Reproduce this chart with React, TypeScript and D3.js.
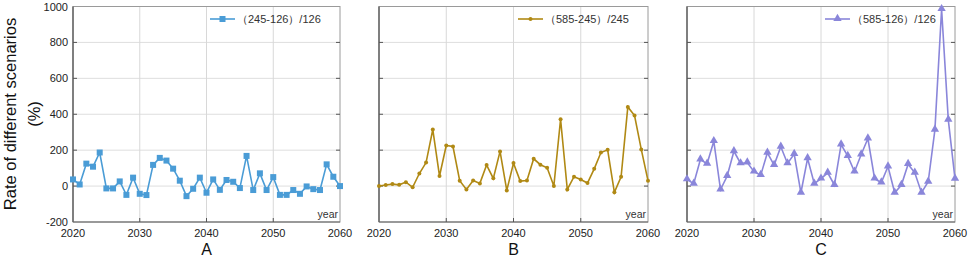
import React from "react";
import * as d3 from "d3";

const width = 969;
const height = 264;
const plotTop = 6.5;
const plotBottom = 222;

const years = d3.range(2020, 2061);
const yTicks = [-200, 0, 200, 400, 600, 800, 1000];
const xTicks = [2020, 2030, 2040, 2050, 2060];

// (245-126)/126
const seriesA = [
  37, 9, 125, 108, 187, -13, -13, 26, -49, 47, -43, -50, 118, 157, 142, 97, 30, -56, -15, 47,
  -37, 37, -21, 34, 24, -11, 168, -22, 71, -22, 50, -49, -49, -22, -43, -2, -17, -22, 121, 52, 0,
];
// (585-245)/245
const seriesB = [
  0, 6, 11, 7, 22, -7, 70, 131, 315, 56, 226, 220, 30, -19, 31, 15, 117, 43, 193, -24,
  128, 28, 31, 152, 119, 102, 0, 372, -19, 52, 37, 17, 96, 187, 202, -35, 52, 441, 393, 204, 30,
];
// (585-126)/126
const seriesC = [
  37, 13, 148, 124, 250, -19, 56, 194, 126, 131, 80, 61, 185, 117, 219, 126, 178, -37, 154, 13,
  41, 74, 6, 231, 167, 80, 176, 265, 41, 19, 109, -37, 6, 122, 74, -37, 24, 313, 985, 369, 40,
];

const panels = [
  { letter: "A", label: "（245-126）/126", values: seriesA, color: "#4a9cd6", marker: "square", left: 73, right: 340, showY: true },
  { letter: "B", label: "（585-245）/245", values: seriesB, color: "#b08914", marker: "circle", left: 379, right: 648, showY: false },
  { letter: "C", label: "（585-126）/126", values: seriesC, color: "#8a86da", marker: "triangle", left: 687, right: 955, showY: false },
];

const font = "Liberation Sans, Arial, sans-serif";

function Marker({ type, x, y, color }) {
  if (type === "square") return <rect x={x - 3} y={y - 3} width={6} height={6} fill={color} />;
  if (type === "circle") return <circle cx={x} cy={y} r={2} fill={color} />;
  const p = d3.symbol().type(d3.symbolTriangle).size(30)();
  return <path d={p} transform={`translate(${x},${y - 0.5})`} fill={color} />;
}

function Panel({ p }) {
  const x = d3.scaleLinear().domain([2020, 2060]).range([p.left, p.right]);
  const y = d3.scaleLinear().domain([-200, 1000]).range([plotBottom, plotTop]);
  const line = d3
    .line<number>()
    .x((d, i) => x(years[i]))
    .y(d => y(d));
  const mid = (p.left + p.right) / 2;
  const legendX = p.right - 130;

  return (
    <g>
      {/* grid */}
      {yTicks.slice(1, -1).map(t => (
        <line key={"gy" + t} x1={p.left} x2={p.right} y1={y(t)} y2={y(t)} stroke="#dedede" strokeWidth={1} />
      ))}
      {xTicks.slice(1, -1).map(t => (
        <line key={"gx" + t} x1={x(t)} x2={x(t)} y1={plotTop} y2={plotBottom} stroke="#d8d8d8" strokeWidth={1} />
      ))}

      {/* frame */}
      <rect x={p.left} y={plotTop} width={p.right - p.left} height={plotBottom - plotTop} fill="none" stroke="#9a9a9a" strokeWidth={1} />
      <line x1={p.left} x2={p.left} y1={plotTop} y2={plotBottom} stroke="#666" strokeWidth={1.5} />
      <line x1={p.left} x2={p.right} y1={plotBottom} y2={plotBottom} stroke="#666" strokeWidth={1.2} />

      {/* ticks */}
      {yTicks.slice(1, -1).map(t => (
        <g key={"ty" + t}>
          <line x1={p.left} x2={p.left + 4} y1={y(t)} y2={y(t)} stroke="#555" />
          <line x1={p.right - 4} x2={p.right} y1={y(t)} y2={y(t)} stroke="#555" />
        </g>
      ))}
      {xTicks.slice(1, -1).map(t => (
        <line key={"tx" + t} x1={x(t)} x2={x(t)} y1={plotBottom} y2={plotBottom - 4} stroke="#555" />
      ))}

      {/* tick labels */}
      {p.showY &&
        yTicks.map(t => (
          <text key={"ly" + t} x={p.left - 5} y={y(t) + 4} textAnchor="end" fontSize={11} fontFamily={font} fill="#222">
            {t}
          </text>
        ))}
      {xTicks.map(t => (
        <text key={"lx" + t} x={x(t)} y={237} textAnchor="middle" fontSize={11} fontFamily={font} fill="#222">
          {t}
        </text>
      ))}

      {/* series */}
      <path d={line(p.values) || ""} fill="none" stroke={p.color} strokeWidth={1.6} />
      {p.values.map((v, i) => (
        <Marker key={i} type={p.marker} x={x(years[i])} y={y(v)} color={p.color} />
      ))}

      {/* legend */}
      <line x1={legendX} x2={legendX + 25} y1={19} y2={19} stroke={p.color} strokeWidth={1.6} />
      <Marker type={p.marker} x={legendX + 12.5} y={19} color={p.color} />
      <text x={legendX + 27} y={23} fontSize={11} fontFamily={font} fill="#333">
        {p.label}
      </text>

      <text x={p.right - 2} y={218} textAnchor="end" fontSize={10.5} fontFamily={font} fill="#333">
        year
      </text>

      <text x={mid} y={255} textAnchor="middle" fontSize={16} fontFamily={font} fill="#111">
        {p.letter}
      </text>
    </g>
  );
}

export default function App() {
  return (
    <svg width={width} height={height} style={{ position: "absolute", left: 0, top: 0, background: "#fff" }}>
      <text transform="rotate(-90)" x={-114} y={16} textAnchor="middle" fontSize={16.5} fontFamily={font} fill="#111">
        Rate of different scenarios
      </text>
      <text transform="rotate(-90)" x={-114} y={40} textAnchor="middle" fontSize={16.5} fontFamily={font} fill="#111">
        (%)
      </text>
      {panels.map(p => (
        <Panel key={p.letter} p={p} />
      ))}
    </svg>
  );
}
